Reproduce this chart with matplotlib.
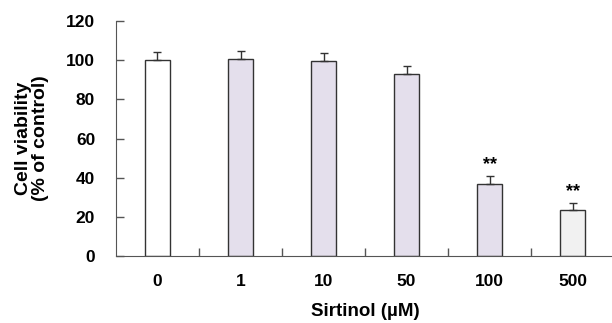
import matplotlib
matplotlib.use('Agg')
import matplotlib.pyplot as plt

# Data
doses = ['0', '1', '10', '50', '100', '500']
viability = [100, 100.8, 99.8, 93, 36.6, 23.6]
sem = [4, 4, 3.7, 3.9, 4.1, 3.4]
marks = ['', '', '', '', '**', '**']
bar_colors = ['#ffffff', '#e4dfec', '#e4dfec', '#e4dfec', '#e4dfec', '#f1f1f1']

plt.rcParams['font.family'] = ['Liberation Sans', 'DejaVu Sans']
plt.rcParams['font.weight'] = 'bold'

fig = plt.figure(figsize=(6.12, 3.23), dpi=100)
ax = fig.add_axes([0.1895, 0.2074, 0.814, 0.7276])

x = range(len(doses))
ax.bar(x, viability, width=0.31, color=bar_colors, edgecolor='#333333', linewidth=1.0,
       yerr=[[0] * len(sem), sem], error_kw=dict(ecolor='#333333', elinewidth=1.0, capsize=3, capthick=1.0))

for i, m in enumerate(marks):
    if m:
        ax.text(i, viability[i] + sem[i] + 1.5, m, ha='center', va='bottom', fontsize=13, fontweight='bold')

ax.set_xlim(-0.5, len(doses) - 0.5)
ax.set_ylim(0, 120)
ax.set_yticks(range(0, 121, 20))

# ticks between categories on x, labels at centers
ax.set_xticks([i + 0.5 for i in range(len(doses) - 1)])
ax.set_xticklabels([])
ax.set_xticks(list(x), minor=True)
ax.set_xticklabels(doses, minor=True)
ax.tick_params(axis='x', which='major', direction='in', length=6, width=1, color='#555555')
ax.tick_params(axis='x', which='minor', length=0, pad=13, labelsize=12.5)
ax.tick_params(axis='y', direction='in', length=6, width=1, color='#555555', pad=15, labelsize=12.5)

for lab in ax.get_xticklabels(minor=True) + ax.get_yticklabels():
    lab.set_fontweight('bold')

ax.spines['top'].set_visible(False)
ax.spines['right'].set_visible(False)
ax.spines['left'].set_color('#555555')
ax.spines['bottom'].set_color('#555555')

ax.set_xlabel('Sirtinol (µM)', fontsize=13.5, fontweight='bold', labelpad=10)
ax.set_ylabel('Cell viability\n(% of control)', fontsize=14, fontweight='bold', labelpad=12,
              linespacing=1.0)

plt.savefig('out.png', dpi=100)
